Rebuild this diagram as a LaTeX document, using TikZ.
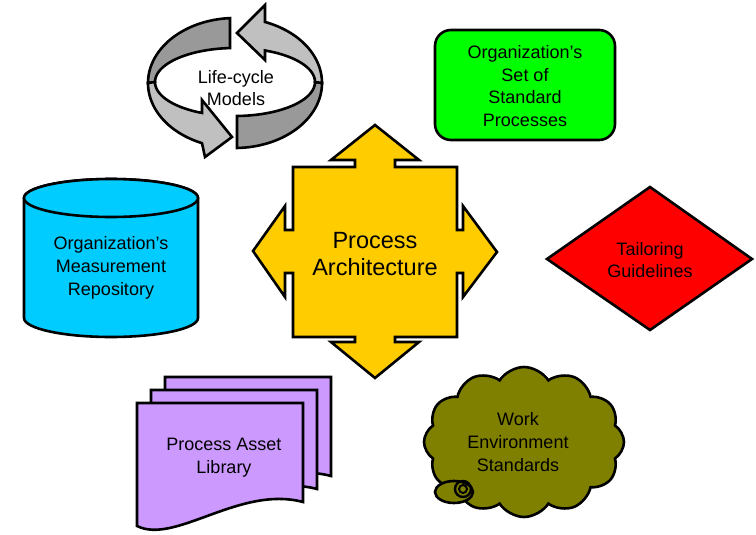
\documentclass[tikz,border=0pt]{standalone}
\usepackage{fontspec}
\setmainfont{Liberation Sans}
\usetikzlibrary{shapes.symbols}
\definecolor{lgray}{HTML}{C0C0C0}
\definecolor{dgray}{HTML}{999999}
\definecolor{pgreen}{HTML}{00FF00}
\definecolor{pred}{HTML}{FF0000}
\definecolor{pcyan}{HTML}{00CCFF}
\definecolor{ppurple}{HTML}{CC99FF}
\definecolor{polive}{HTML}{808000}
\definecolor{pyellow}{HTML}{FFCC00}
\newcommand{\docshape}{(0,0) -- (166,0) -- (166,99) .. controls (103,82) and (38,142) .. (0,123) -- cycle}
\tikzset{
  outl/.style={draw=black, line width=2.6pt},
  lbl/.style={align=center, font=\fontsize{18}{22.7}\selectfont, inner sep=0pt},
  biglbl/.style={align=center, font=\fontsize{23.5}{27}\selectfont, inner sep=0pt},
  pagebox/.style={outl, fill=ppurple},
}
\begin{document}
\begin{tikzpicture}[x=1pt, y=-1pt]
\useasboundingbox (0,0) rectangle (756,535);

% ---- Life-cycle ring ----
\draw[outl, fill=dgray] plot[domain=0:-88.7, samples=40] ({235+87*cos(\x)},{83-65*sin(\x)})
  -- plot[domain=-88.6:0, samples=40] ({235+80*cos(\x)},{82-34*sin(\x)}) -- cycle;
\draw[outl, fill=lgray] plot[domain=0:69.8, samples=40] ({235+87*cos(\x)},{83-65*sin(\x)})
  -- (265,5) -- (237,33) -- (265,60)
  -- plot[domain=68:0, samples=40] ({235+80*cos(\x)},{82-34*sin(\x)}) -- cycle;
\draw[outl, fill=dgray] plot[domain=180:93.3, samples=40] ({235+87*cos(\x)},{83-65*sin(\x)})
  -- plot[domain=93.6:180, samples=40] ({235+80*cos(\x)},{82-34*sin(\x)}) -- cycle;
\draw[outl, fill=lgray] plot[domain=180:247.7, samples=40] ({235+87*cos(\x)},{83-65*sin(\x)})
  -- (205,157) -- (232,137) -- (202,100)
  -- plot[domain=245.6:180, samples=40] ({235+80*cos(\x)},{82-34*sin(\x)}) -- cycle;
\node[lbl] (lifecycle) at (236,88) {Life-cycle\\Models};

% ---- Green rounded box ----
\draw[outl, fill=pgreen, rounded corners=16pt] (435,30) rectangle (615,140);
\node[lbl] (ossp) at (525,86) {Organization’s\\Set of\\Standard\\Processes};

% ---- Central four-way arrow ----
\draw[outl, fill=pyellow, line join=miter]
 (375,125) -- (419,160) -- (395,160) -- (395,167) -- (457,167) -- (457,230) -- (463,230)
 -- (463,206) -- (497,252) -- (463,297) -- (463,273) -- (457,273) -- (457,337) -- (395,337)
 -- (395,342) -- (419,342) -- (375,378) -- (331,342) -- (355,342) -- (355,337) -- (293,337)
 -- (293,273) -- (285,273) -- (285,297) -- (253,251) -- (285,206) -- (285,230) -- (293,230)
 -- (293,167) -- (355,167) -- (355,160) -- (331,160) -- cycle;
\node[biglbl] (pa) at (375,254) {Process\\Architecture};

% ---- Cylinder ----
\draw[outl, fill=pcyan] (24,198) -- (24,318) arc[start angle=180, end angle=0, x radius=87, y radius=19]
  -- (198,198) arc[start angle=0, end angle=-180, x radius=87, y radius=19] -- cycle;
\draw[outl, fill=pcyan] (111,198) ellipse [x radius=87, y radius=19];
\node[lbl] (omr) at (111,268) {Organization’s\\Measurement\\Repository};

% ---- Diamond ----
\draw[outl, fill=pred, line join=miter] (547,259) -- (650,187) -- (752,259) -- (650,330) -- cycle;
\node[lbl] (tg) at (650,260) {Tailoring\\Guidelines};

% ---- Documents ----
\begin{scope}[shift={(165,377)}] \draw[pagebox] \docshape; \end{scope}
\begin{scope}[shift={(151,390)}] \draw[pagebox] \docshape; \end{scope}
\begin{scope}[shift={(137,403)}] \draw[pagebox] \docshape; \end{scope}
\node[lbl] (pal) at (224,458) {Process Asset\\Library};

% ---- Cloud ----
\node[cloud, cloud puffs=12, cloud puff arc=115, aspect=1.3, minimum width=200pt, minimum height=150pt,
      outl, fill=polive] (cloud) at (524,442) {};
\draw[outl, fill=polive] (454,492) ellipse [x radius=19, y radius=11];
\draw[line width=2.4pt] (463,489) circle (8);
\draw[line width=2pt] (463,489) circle (4);
\node[lbl] (wes) at (518,442) {Work\\Environment\\Standards};
\end{tikzpicture}
\end{document}
